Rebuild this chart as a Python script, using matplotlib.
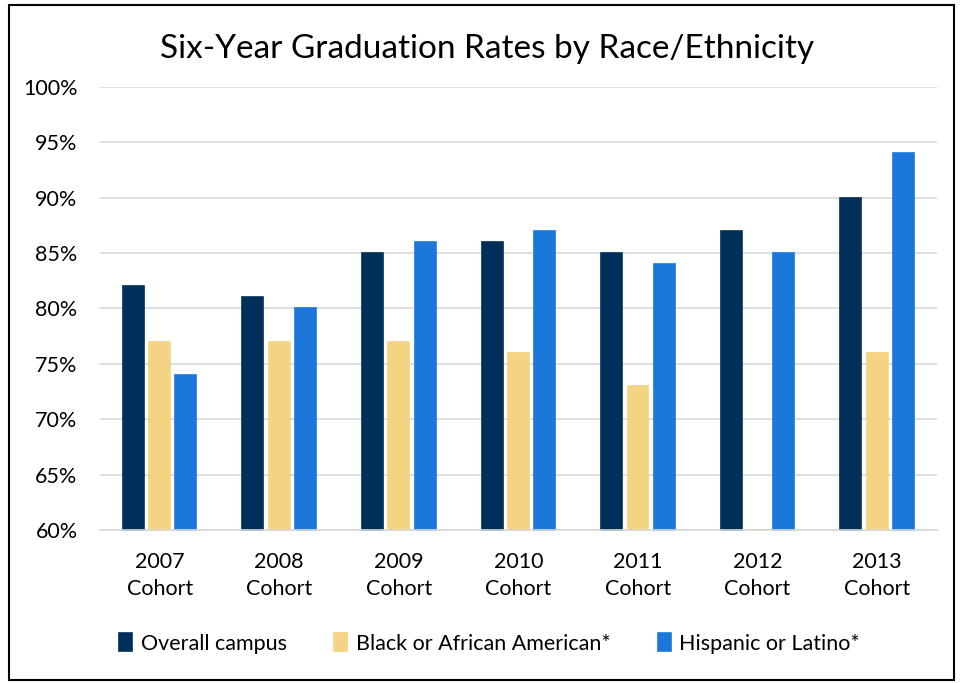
import matplotlib.pyplot as plt
import numpy as np
from matplotlib.patches import Rectangle

plt.rcParams['font.family'] = ['Lato', 'DejaVu Sans']

cohorts = ['2007\nCohort', '2008\nCohort', '2009\nCohort', '2010\nCohort',
           '2011\nCohort', '2012\nCohort', '2013\nCohort']
overall = [82, 81, 85, 86, 85, 87, 90]
black = [77, 77, 77, 76, 73, 60, 76]
hispanic = [74, 80, 86, 87, 84, 85, 94]
series = ['Overall campus', 'Black or African American*', 'Hispanic or Latino*']
colors = ['#00305A', '#F4D383', '#1B78DA']

fig = plt.figure(figsize=(9.6, 6.83), dpi=100)
ax = fig.add_axes([0.104, 0.224, 0.872, 0.649])

x = np.arange(len(cohorts))
w = 0.175
step = 0.22
for i, (vals, c, lab) in enumerate(zip([overall, black, hispanic], colors, series)):
    ax.bar(x + (i - 1) * step, np.array(vals) - 60, width=w, bottom=60,
           color=c, label=lab, zorder=3, edgecolor=c, linewidth=1.2, clip_on=False)

ax.set_xlim(-0.5, len(cohorts) - 0.5)
ax.set_ylim(60, 100)
ax.set_yticks(range(60, 101, 5))
ax.set_yticklabels([f'{v}%' for v in range(60, 101, 5)])
ax.set_xticks(x)
ax.set_xticklabels(cohorts, linespacing=1.45)
ax.grid(axis='y', color='#D9D9D9', linewidth=1.2, zorder=0)
for s in ['top', 'right', 'left']:
    ax.spines[s].set_visible(False)
ax.spines['bottom'].set_color('#D9D9D9')
ax.spines['bottom'].set_linewidth(1.2)
ax.spines['bottom'].set_zorder(4)
ax.tick_params(length=0, labelsize=15.5, colors='#000000')
ax.tick_params(axis='y', pad=16)
ax.tick_params(axis='x', pad=16)

fig.text(0.507, 0.928, 'Six-Year Graduation Rates by Race/Ethnicity',
         ha='center', va='center', fontsize=24)

fig.legend(loc='center', bbox_to_anchor=(0.51, 0.058), ncol=3, frameon=False,
           fontsize=15.5, handlelength=0.6, handleheight=0.9, columnspacing=2.2,
           handletextpad=0.4)

fig.patches.append(Rectangle((0.009, 0.005), 0.985, 0.987, transform=fig.transFigure,
                             fill=False, edgecolor='black', linewidth=1.5))

fig.savefig('out.png', dpi=100)
